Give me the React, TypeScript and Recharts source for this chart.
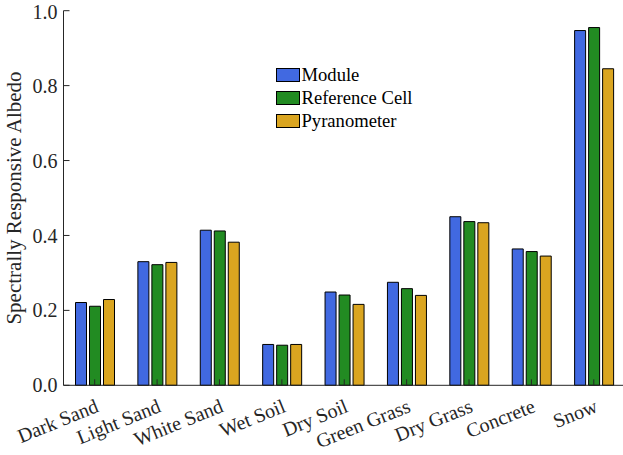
import React from 'react';
import { BarChart, Bar, XAxis, YAxis, Legend } from 'recharts';

const categories = ['Dark Sand', 'Light Sand', 'White Sand', 'Wet Soil', 'Dry Soil', 'Green Grass', 'Dry Grass', 'Concrete', 'Snow'];
const moduleValues = [0.221, 0.330, 0.414, 0.109, 0.249, 0.275, 0.450, 0.364, 0.947];
const refCellValues = [0.211, 0.322, 0.412, 0.107, 0.241, 0.258, 0.437, 0.357, 0.955];
const pyranometerValues = [0.229, 0.328, 0.382, 0.109, 0.216, 0.240, 0.434, 0.345, 0.845];
const yTicks = [0, 0.2, 0.4, 0.6, 0.8, 1.0];

const seriesInfo = [
  { key: 'moduleVal', name: 'Module', color: '#4169E1' },
  { key: 'refCellVal', name: 'Reference Cell', color: '#228B22' },
  { key: 'pyrVal', name: 'Pyranometer', color: '#DAA520' },
];

const data = categories.map((name, i) => ({
  name,
  moduleVal: moduleValues[i],
  refCellVal: refCellValues[i],
  pyrVal: pyranometerValues[i],
}));

const FONT = 'Liberation Serif, Tinos, DejaVu Serif, serif';
const AXIS = '#262626';

const renderXTick = (props: any) => {
  const x = props.x;
  const y = props.y;
  const value = props.payload ? props.payload.value : '';
  return (
    <g transform={`translate(${x + 5},${y + 26}) rotate(-22)`}>
      <text x={0} y={0} textAnchor="end" style={{ fontFamily: FONT, fontSize: 20 }} fill={AXIS}>
        {value}
      </text>
    </g>
  );
};

const renderNoTick = () => <g />;

const renderLegend = () => (
  <div style={{ fontFamily: FONT, fontSize: 18.6, color: '#000' }}>
    {seriesInfo.map((s) => (
      <div key={s.key} style={{ display: 'flex', alignItems: 'center', height: 22.7 }}>
        <div style={{ width: 22, height: 12, background: s.color, border: '1px solid #000' }} />
        <span style={{ marginLeft: 1.5, lineHeight: '18px' }}>{s.name}</span>
      </div>
    ))}
  </div>
);

const renderYLabel = (props: any) => {
  const vb = props.viewBox || {};
  const cy = vb.y + vb.height / 2;
  return (
    <text
      x={20.5}
      y={cy}
      transform={`rotate(-90, 20.5, ${cy})`}
      textAnchor="middle"
      style={{ fontFamily: FONT, fontSize: 21 }}
      fill={AXIS}
    >
      Spectrally Responsive Albedo
    </text>
  );
};

export default function App() {
  return (
    <div style={{ position: 'absolute', left: 0, top: 0, width: 623, height: 455, overflow: 'hidden', background: '#fff', fontFamily: FONT }}>
      <BarChart
        width={626}
        height={455}
        data={data}
        margin={{ top: 10.7, right: 1, left: 3.5, bottom: 9.7 }}
        barSize={11}
        barGap={3}
        style={{ fontFamily: FONT }}
      >
        <XAxis
          dataKey="name"
          height={60}
          tickSize={-6}
          tickMargin={6}
          tick={renderXTick}
          axisLine={{ stroke: AXIS }}
          tickLine={{ stroke: AXIS }}
          interval={0}
        />
        <XAxis
          xAxisId="top"
          dataKey="name"
          orientation="top"
          height={0}
          tickSize={-6}
          tick={renderNoTick}
          axisLine={{ stroke: AXIS }}
          tickLine={{ stroke: AXIS }}
          interval={0}
        />
        <YAxis
          width={60}
          domain={[0, 1]}
          ticks={yTicks}
          tickSize={-6}
          tickMargin={12}
          tickFormatter={(v: number) => v.toFixed(1)}
          tick={{ fontFamily: FONT, fontSize: 20, fill: AXIS, style: { fontFamily: FONT } }}
          axisLine={{ stroke: AXIS }}
          tickLine={{ stroke: AXIS }}
          label={{ content: renderYLabel }}
        />
        <YAxis
          yAxisId="right"
          orientation="right"
          width={0}
          domain={[0, 1]}
          ticks={yTicks}
          tickSize={-6}
          tick={renderNoTick}
          axisLine={{ stroke: AXIS }}
          tickLine={{ stroke: AXIS }}
        />
        <Legend
          layout="vertical"
          align="center"
          verticalAlign="middle"
          content={renderLegend}
          wrapperStyle={{ position: 'absolute', left: 276, top: 64, width: 'auto', height: 'auto', margin: 0 }}
        />
        {seriesInfo.map((s) => (
          <Bar
            key={s.key}
            dataKey={s.key}
            name={s.name}
            fill={s.color}
            stroke="#000"
            strokeWidth={1}
            isAnimationActive={false}
          />
        ))}
      </BarChart>
    </div>
  );
}
